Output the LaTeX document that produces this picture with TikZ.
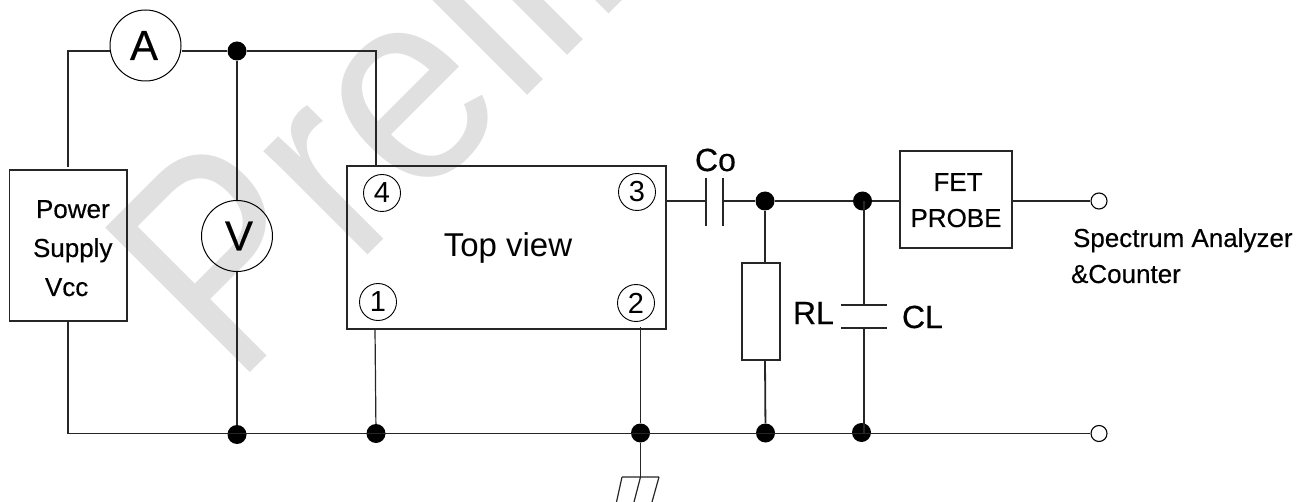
\documentclass[tikz,border=0pt]{standalone}
\usepackage{fontspec}
\setmainfont{Liberation Sans}
\newfontfamily\heavy[FakeBold=0.35]{Liberation Sans}
\definecolor{wmark}{HTML}{E0E0E0}
\newcommand{\fs}[1]{\fontsize{#1}{#1}\selectfont}
\tikzset{
  wmtext/.style={transform shape,anchor=base west,inner sep=0pt,outer sep=0pt,text=wmark,font=\fs{255}},
  wire/.style={draw=black!85,line width=1.2pt},
  box/.style={draw=black!85,line width=1.3pt,fill=none,inner sep=0pt},
  meter/.style={circle,draw=black,line width=1pt,minimum size=71pt,inner sep=0pt,font=\heavy\fs{42}},
  pinmark/.style={circle,draw=black,line width=0.9pt,minimum size=37pt,inner sep=0pt,font=\fs{29}},
  junction/.style={circle,fill=black,minimum size=19pt,inner sep=0pt},
  terminal/.style={circle,draw=black,fill=white,line width=1.1pt,minimum size=16pt,inner sep=0pt},
  lab/.style={anchor=base west,inner sep=0pt,outer sep=0pt,font=\heavy\fs{26}},
  labc/.style={anchor=base,inner sep=0pt,outer sep=0pt,font=\heavy\fs{26}},
}
\begin{document}
\begin{tikzpicture}[x=1pt,y=-1pt]
\useasboundingbox (0,0) rectangle (1313,502);
\begin{scope}
\clip (0,0) rectangle (1313,502);
\begin{scope}[shift={(235.4,387.6)},cm={0.7071,0.7071,{-0.7071*1.09},{0.7071*1.09},(0,0)}]
\node[wmtext] (wm) at (0,0) {\scalebox{1}[1.07]{P}reliminary};
\end{scope}
\end{scope}
% instruments and blocks
\node[meter] (A) at (145.5,45.5) {\raisebox{-2pt}{A}\hspace*{3pt}};
\node[meter] (V) at (237,236) {\hspace*{4pt}V};
\node[box,minimum width=117.5pt,minimum height=151pt] (ps) at (68.25,245.5) {};
\node[box,minimum width=319pt,minimum height=163pt] (dut) at (506.5,247.5) {};
\node[box,minimum width=112pt,minimum height=97pt] (fet) at (956,199.5) {};
\node[box,minimum width=38pt,minimum height=97pt] (rl) at (761,311.5) {};
\node[lab] (tpower) at (36,218) {Power};
\node[lab] (tsupply) at (33,257) {Supply};
\node[lab] (tvcc) at (45,296) {Vcc};
\node[anchor=base,inner sep=0pt,font=\fs{33}] (ttop) at (508,257) {Top view};
\node[pinmark] (p4) at (382,193) {4};
\node[pinmark] (p1) at (378,302) {1};
\node[pinmark] (p3) at (637,192) {3};
\node[pinmark] (p2) at (636,303) {2};
\node[labc] (tfet) at (958,191) {FET};
\node[labc] (tprobe) at (956,227) {PROBE};
\node[lab,font=\heavy\fs{32}] (tco) at (695,171) {Co};
\node[lab,font=\heavy\fs{32}] (trl) at (793,324) {RL};
\node[lab,font=\heavy\fs{32}] (tcl) at (902,328) {CL};
\node[lab] (tsa) at (1073,247) {Spectrum Analyzer};
\node[lab] (tcnt) at (1071,283) {\&Counter};
% junctions
\coordinate (psTop) at (68,167);
\coordinate (cornerTL) at (68,51);
\coordinate (cornerTR) at (376,51);
\coordinate (cornerBL) at (68,433.5);
\coordinate (dutTop) at (376,166);
\coordinate (dutOne) at (375,329);
\coordinate (dutTwo) at (640.5,327);
\coordinate (dutThree) at (666,201);
\coordinate (coL) at (706,201);
\coordinate (coR) at (723,201);
\coordinate (clT) at (864,305);
\coordinate (clB) at (864,328);
\node[junction] (j1) at (237,51) {};
\node[junction] (j2) at (237,434.5) {};
\node[junction] (j3) at (376,433.5) {};
\node[junction] (j4) at (640.5,433) {};
\node[junction] (j5) at (765.5,433) {};
\node[junction] (j6) at (861.5,432.5) {};
\node[junction] (j7) at (765,201) {};
\node[junction] (j8) at (862.5,201) {};
\node[terminal] (t1) at (1099,201) {};
\node[terminal] (t2) at (1099,433.5) {};
\coordinate (gnd) at (640.5,477);
\coordinate (gndL) at (622,477);
\coordinate (gndR) at (659,477);
\coordinate (gndLb) at (616.5,502);
\coordinate (gndMb) at (634,502);
\coordinate (gndRb) at (652,502);
\coordinate (coLt) at (706,178);
\coordinate (coLb) at (706,226);
\coordinate (coRt) at (723,178);
\coordinate (coRb) at (723,226);
\coordinate (clTl) at (841,305);
\coordinate (clTr) at (887,305);
\coordinate (clBl) at (841,328);
\coordinate (clBr) at (887,328);
% wires
\draw[wire] (psTop) -- (cornerTL) -- (A.west |- cornerTL);
\draw[wire] (A.east |- cornerTL) -- (j1) -- (cornerTR) -- (dutTop);
\draw[wire] (j1) -- (V);
\draw[wire] (V) -- (j2);
\draw[wire] (ps.south -| cornerBL) -- (cornerBL) -- (t2);
\draw[wire] (dutOne) -- (j3);
\draw[wire] (dutTwo) -- (j4) -- (gnd);
\draw[wire] (gndL) -- (gndR) (gndL) -- (gndLb) (gnd) -- (gndMb) (gndR) -- (gndRb);
\draw[wire] (dutThree) -- (coL) (coLt) -- (coLb) (coRt) -- (coRb) (coR) -- (j7) -- (j8) -- (fet.west |- j8);
\draw[wire] (fet.east |- t1) -- (t1);
\draw[wire] (j7) -- (rl.north -| j7);
\draw[wire,line width=1.8pt] (rl.south -| j7) -- (j5);
\draw[wire] (j8 -| clT) -- (clT) (clTl) -- (clTr) (clBl) -- (clBr) (clB) -- (j6 -| clB);
\end{tikzpicture}
\end{document}
